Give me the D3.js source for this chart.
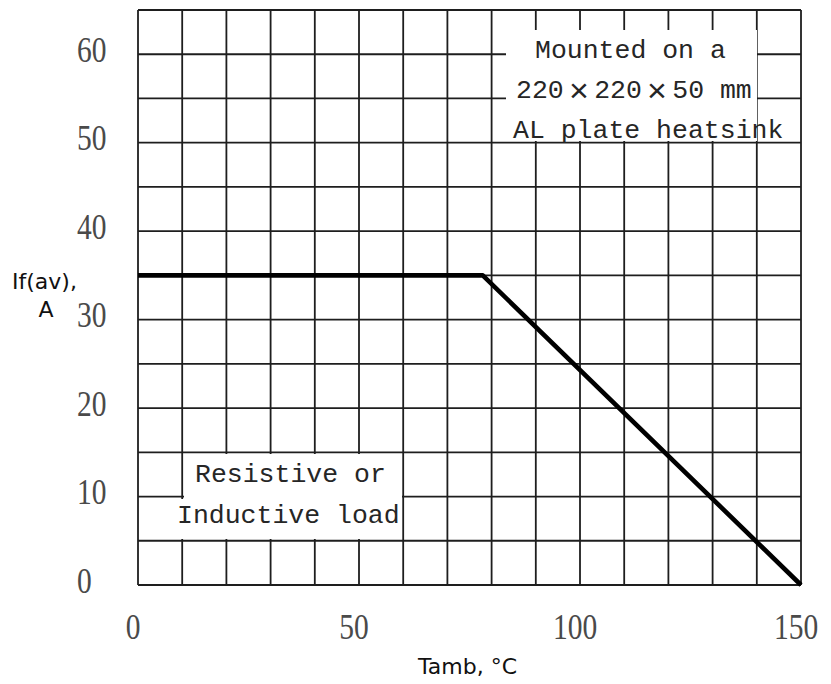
<!DOCTYPE html>
<html>
<head>
<meta charset="utf-8">
<script src="https://cdn.jsdelivr.net/npm/d3@7"></script>
<style>
  html, body { margin: 0; padding: 0; background: #fff; }
  svg { display: block; }
</style>
</head>
<body>
<div id="chart"></div>
<script>
// derating curve: average forward current vs ambient temperature
var tempPoints = [0, 78, 150];
var currentPoints = [35, 35, 0];
var xTickValues = [0, 50, 100, 150];
var yTickValues = [0, 10, 20, 30, 40, 50, 60];
var xGridValues = d3.range(0, 151, 10);
var yGridValues = d3.range(0, 66, 5);
var noteTop = ["Mounted on a", ["220", "×", "220", "×", "50 mm"], "AL plate heatsink"];
var noteBottom = ["Resistive or", "Inductive load"];

var width = 831, height = 684;
var margin = { top: 10, right: 30, bottom: 99, left: 138 };

var svg = d3.select("#chart").append("svg")
  .attr("width", width)
  .attr("height", height);

var x = d3.scaleLinear().domain([0, 150]).range([margin.left, width - margin.right]);
var y = d3.scaleLinear().domain([0, 65]).range([height - margin.bottom, margin.top]);

var gridColor = "#1e1e1e";

// grid
svg.append("g").selectAll("line.v")
  .data(xGridValues)
  .enter().append("line")
  .attr("x1", function(d) { return x(d); })
  .attr("x2", function(d) { return x(d); })
  .attr("y1", y(0))
  .attr("y2", y(65))
  .attr("stroke", gridColor)
  .attr("stroke-width", 1.8);

svg.append("g").selectAll("line.h")
  .data(yGridValues)
  .enter().append("line")
  .attr("x1", x(0))
  .attr("x2", x(150))
  .attr("y1", function(d) { return y(d); })
  .attr("y2", function(d) { return y(d); })
  .attr("stroke", gridColor)
  .attr("stroke-width", 1.8);

// white note boxes cut the grid
svg.append("rect").attr("x", 506).attr("y", 30).attr("width", 251).attr("height", 111).attr("fill", "#fff");
svg.append("rect").attr("x", 184).attr("y", 454).attr("width", 218).attr("height", 85).attr("fill", "#fff");
svg.append("rect").attr("x", 140).attr("y", 499).attr("width", 262).attr("height", 40).attr("fill", "#fff");

// curve
var line = d3.line()
  .x(function(d, i) { return x(tempPoints[i]); })
  .y(function(d) { return y(d); });

svg.append("path")
  .datum(currentPoints)
  .attr("d", line)
  .attr("fill", "none")
  .attr("stroke", "#000")
  .attr("stroke-width", 4.6)
  .attr("stroke-linejoin", "round");

// tick labels
var tickFont = "'Liberation Serif', 'Times New Roman', serif";

svg.append("g").selectAll("text")
  .data(yTickValues)
  .enter().append("text")
  .attr("transform", function(d) { return "translate(77," + (y(d) + 7.5) + ") scale(0.82,1)"; })
  .attr("font-family", tickFont)
  .attr("font-size", 36)
  .attr("fill", "#4a4a4a")
  .text(function(d) { return d; });

svg.append("g").selectAll("text")
  .data(xTickValues)
  .enter().append("text")
  .attr("transform", function(d) { return "translate(" + (x(d) - 5) + ",639) scale(0.82,1)"; })
  .attr("text-anchor", "middle")
  .attr("font-family", tickFont)
  .attr("font-size", 36)
  .attr("fill", "#4a4a4a")
  .text(function(d) { return d; });

// axis titles
var titleFont = "'DejaVu Sans', Verdana, sans-serif";
svg.append("text")
  .attr("x", 12).attr("y", 289)
  .attr("font-family", titleFont).attr("font-size", 22)
  .attr("fill", "#111")
  .text("If(av),");
svg.append("text")
  .attr("x", 46).attr("y", 317)
  .attr("text-anchor", "middle")
  .attr("font-family", titleFont).attr("font-size", 22)
  .attr("fill", "#111")
  .text("A");
svg.append("text")
  .attr("x", 418).attr("y", 674)
  .attr("font-family", titleFont).attr("font-size", 22)
  .attr("fill", "#111")
  .text("Tamb, °C");

// notes
var noteFont = "'Liberation Mono', 'Courier New', monospace";
function note(str, px, py) {
  return svg.append("text")
    .attr("x", px).attr("y", py)
    .attr("font-family", noteFont)
    .attr("font-size", 26.5)
    .attr("fill", "#262626")
    .text(str);
}
note(noteTop[0], 535, 58);
var t2 = note("", 516, 98);
t2.selectAll("tspan")
  .data(noteTop[1])
  .enter().append("tspan")
  .attr("dx", function(d, i) { return i === 0 ? 0 : 5; })
  .attr("dy", function(d, i) { return i === 0 ? 0 : (d === "×" ? 4 : -4); })
  .attr("font-size", function(d) { return d === "×" ? 34 : null; })
  .text(function(d) { return d; });
note(noteTop[2], 513, 138);
note(noteBottom[0], 195, 482);
note(noteBottom[1], 177, 523);
</script>
</body>
</html>
